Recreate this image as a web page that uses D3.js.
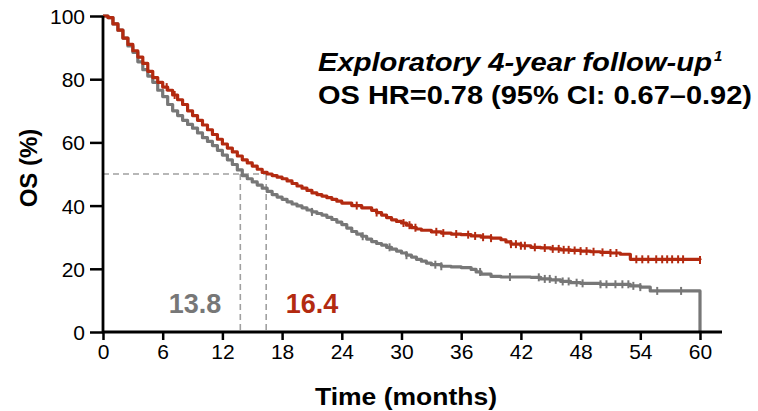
<!DOCTYPE html>
<html>
<head>
<meta charset="utf-8">
<script src="https://cdn.jsdelivr.net/npm/d3@7"></script>
<style>
  body { margin: 0; background: #fff; }
  text { font-family: "Liberation Sans", Arial, sans-serif; }
</style>
</head>
<body>
<div id="chart"></div>
<script>
// survival estimates (months, OS %)
var redTime  = [0, 0.5, 1, 1.5, 2, 2.5, 3, 3.5, 4, 4.5, 5, 5.5, 6, 6.5, 7, 7.5, 8, 8.5, 9, 9.5, 10, 10.5, 11, 11.5, 12, 12.5, 13, 13.5, 14, 14.5, 15, 15.5, 16, 16.5, 17, 17.5, 18, 18.5, 19, 19.5, 20, 20.5, 21, 21.5, 22, 22.5, 23, 23.5, 24, 25, 26, 27, 27.5, 28, 28.5, 29, 29.5, 30, 30.5, 31, 31.5, 32, 33, 34, 35, 36, 37, 38, 39, 40, 40.5, 41, 42, 43, 44, 45, 46, 47, 48, 49, 50, 51, 52, 53, 60];
var redSurv  = [100, 99.5, 97.5, 95.5, 93, 91, 89, 87, 85, 82.5, 80.5, 79, 77.5, 76.5, 75, 73.5, 72, 70, 68.5, 67, 65.5, 64, 62.5, 61, 59.5, 58.2, 57, 55.7, 54.5, 53.5, 52.5, 51.5, 50.5, 50, 49.5, 49, 48.5, 47.8, 47, 46.2, 45.5, 44.8, 44, 43.5, 43, 42.5, 42, 41.4, 40.8, 40, 39.3, 38.5, 37.8, 37, 36.2, 35.5, 35, 34.5, 33.8, 33, 32.6, 32.2, 31.7, 31.3, 31, 30.8, 30.4, 30, 29.7, 29.2, 28.5, 27.8, 27.3, 26.8, 26.6, 26.3, 26, 25.8, 25.6, 25.4, 25.2, 25, 24.6, 23, 22.8];
var grayTime = [0, 0.5, 1, 1.5, 2, 2.5, 3, 3.5, 4, 4.5, 5, 5.5, 6, 6.5, 7, 7.5, 8, 8.5, 9, 9.5, 10, 10.5, 11, 11.5, 12, 12.5, 13, 13.5, 14, 14.5, 15, 15.5, 16, 16.5, 17, 17.5, 18, 18.5, 19, 19.5, 20, 20.5, 21, 21.5, 22, 22.5, 23, 23.5, 24, 24.5, 25, 25.5, 26, 26.5, 27, 27.5, 28, 28.5, 29, 29.5, 30, 30.5, 31, 31.5, 32, 32.5, 33, 34, 35, 36, 37, 37.5, 38, 39, 40, 43, 44, 45, 46, 47, 48, 50, 53, 54, 55, 60, 60];
var graySurv = [100, 99.5, 97.5, 95.5, 93, 90.5, 88.5, 85.5, 83, 81, 79, 76.5, 74.5, 72, 70, 68.5, 67, 65.7, 64.5, 63, 61.5, 60.3, 59, 57.5, 56, 54.5, 53, 51.3, 49.5, 48.5, 47.5, 46.5, 45.5, 44.5, 43.5, 42.7, 42, 41.2, 40.5, 39.9, 39.3, 38.6, 38, 37.5, 37, 36.3, 35.6, 34.8, 34, 32.9, 31.8, 31, 30.3, 29.4, 28.6, 28, 27.5, 26.8, 26.2, 25.6, 25, 24.3, 23.7, 23, 22.4, 21.8, 21.3, 20.8, 20.6, 20.4, 19.8, 19, 18.3, 17.6, 17.4, 17.3, 16.8, 16.5, 16, 15.6, 15.4, 15.1, 14.6, 14.2, 13, 12.7, 0];

// censoring marks (months)
var redCensor  = [6.4, 7.2, 25.5, 27.5, 30.2, 30.8, 31.4, 33.5, 34.2, 35.5, 36.7, 37.4, 38.2, 39.0, 41.0, 41.5, 42.0, 42.4, 43.4, 44.4, 45.2, 45.8, 46.3, 46.8, 47.4, 48.0, 48.6, 49.3, 50.2, 51.0, 51.6, 53.6, 54.2, 54.8, 55.6, 56.2, 56.7, 57.2, 57.8, 58.3, 60.0];
var grayCensor = [21.0, 26.1, 28.8, 30.5, 33.4, 34.0, 37.9, 40.9, 43.8, 44.4, 44.9, 45.5, 46.2, 46.8, 47.6, 48.2, 50.0, 50.6, 51.5, 52.2, 52.8, 53.3, 54.0, 55.7, 58.1];

var xTicks = [0, 6, 12, 18, 24, 30, 36, 42, 48, 54, 60];
var yTicks = [0, 20, 40, 60, 80, 100];
var medians = [13.8, 16.4];

var svgWidth = 758;
var svgHeight = 411;
var margin = { top: 16, left: 103 };
var width = 597;
var height = 316;

var red = "#b32a10";
var gray = "#777777";

var svg = d3.select("#chart")
  .append("svg")
  .attr("width", svgWidth)
  .attr("height", svgHeight);

var chartGroup = svg.append("g")
  .attr("transform", `translate(${margin.left}, ${margin.top})`);

var x = d3.scaleLinear().domain([0, 60]).range([0, width]);
var y = d3.scaleLinear().domain([0, 100]).range([height, 0]);

// dashed median guides
var dash = chartGroup.append("g")
  .attr("stroke", "#a0a0a0")
  .attr("stroke-width", 1.6)
  .attr("stroke-dasharray", "6,4")
  .attr("fill", "none");
dash.append("line")
  .attr("x1", x(0)).attr("x2", x(medians[1]))
  .attr("y1", y(50)).attr("y2", y(50));
medians.forEach(function(m) {
  dash.append("line")
    .attr("x1", x(m)).attr("x2", x(m))
    .attr("y1", y(50)).attr("y2", y(0));
});

// step lookup for censor marks
function survAt(times, surv, t) {
  var i = d3.bisectRight(times, t) - 1;
  return surv[Math.max(0, i)];
}

function drawArm(times, surv, censor, color) {
  var pts = times.map(function(t, i) { return [t, surv[i]]; });
  var line = d3.line()
    .x(d => x(d[0]))
    .y(d => y(d[1]))
    .curve(d3.curveStepAfter);
  chartGroup.append("path")
    .datum(pts)
    .attr("d", line)
    .attr("fill", "none")
    .attr("stroke", color)
    .attr("stroke-width", 3.2)
    .attr("stroke-linejoin", "round");
  chartGroup.append("g").selectAll("line")
    .data(censor)
    .enter()
    .append("line")
    .attr("x1", d => x(d)).attr("x2", d => x(d))
    .attr("y1", d => y(survAt(times, surv, d)) - 4)
    .attr("y2", d => y(survAt(times, surv, d)) + 4)
    .attr("stroke", color)
    .attr("stroke-width", 2);
}

drawArm(grayTime, graySurv, grayCensor, gray);
drawArm(redTime, redSurv, redCensor, red);

// axes
var bottomAxis = d3.axisBottom(x).tickValues(xTicks).tickSize(8).tickSizeOuter(0).tickPadding(4);
var leftAxis = d3.axisLeft(y).tickValues(yTicks).tickSize(13).tickSizeOuter(0).tickPadding(5);

var xAxis = chartGroup.append("g")
  .attr("transform", `translate(0, ${height})`)
  .call(bottomAxis);
var yAxis = chartGroup.append("g")
  .call(leftAxis);

[xAxis, yAxis].forEach(function(a) {
  a.select(".domain").remove();
  a.selectAll(".tick line").attr("stroke", "#000").attr("stroke-width", 2.5);
  a.selectAll(".tick text")
    .attr("fill", "#000")
    .attr("font-size", "21px")
    .attr("font-family", "'Liberation Sans Narrow', 'Liberation Sans', Arial, sans-serif");
});
yAxis.selectAll(".tick text").attr("dy", "0.36em");

chartGroup.append("line")
  .attr("x1", 0).attr("x2", 0)
  .attr("y1", 0).attr("y2", height + 1)
  .attr("stroke", "#000").attr("stroke-width", 2.8);
chartGroup.append("line")
  .attr("x1", -1).attr("x2", width + 22)
  .attr("y1", height).attr("y2", height)
  .attr("stroke", "#000").attr("stroke-width", 2.8);

// axis titles
svg.append("text")
  .attr("x", 406)
  .attr("y", 405)
  .attr("text-anchor", "middle")
  .attr("font-size", "24px")
  .attr("font-weight", "bold")
  .attr("textLength", 182)
  .attr("lengthAdjust", "spacingAndGlyphs")
  .text("Time (months)");

svg.append("text")
  .attr("transform", "translate(37, 168) rotate(-90)")
  .attr("text-anchor", "middle")
  .attr("font-size", "24px")
  .attr("font-weight", "bold")
  .text("OS (%)");

// median labels
svg.append("text")
  .attr("x", 195).attr("y", 313)
  .attr("text-anchor", "middle")
  .attr("font-size", "27px")
  .attr("font-weight", "bold")
  .attr("fill", gray)
  .text("13.8");
svg.append("text")
  .attr("x", 312).attr("y", 313)
  .attr("text-anchor", "middle")
  .attr("font-size", "27px")
  .attr("font-weight", "bold")
  .attr("fill", red)
  .text("16.4");

// annotation
var note = svg.append("g").attr("fill", "#000");
note.append("text")
  .attr("x", 318).attr("y", 71)
  .attr("font-size", "26px")
  .attr("font-weight", "bold")
  .attr("font-style", "italic")
  .attr("textLength", 394)
  .attr("lengthAdjust", "spacingAndGlyphs")
  .text("Exploratory 4-year follow-up");
note.append("text")
  .attr("x", 714).attr("y", 61)
  .attr("font-size", "15px")
  .attr("font-weight", "bold")
  .attr("font-style", "italic")
  .text("1");

note.append("text")
  .attr("x", 318).attr("y", 104)
  .attr("font-size", "26px")
  .attr("font-weight", "bold")
  .attr("textLength", 434)
  .attr("lengthAdjust", "spacingAndGlyphs")
  .text("OS HR=0.78 (95% CI: 0.67\u20130.92)");
</script>
</body>
</html>
